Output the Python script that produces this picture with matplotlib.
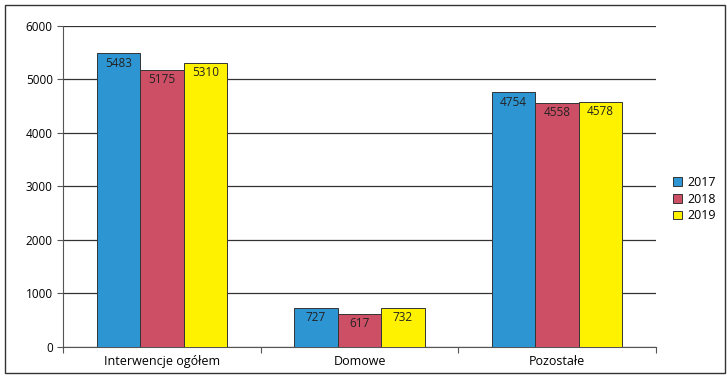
import matplotlib.pyplot as plt
import numpy as np

categories = ['Interwencje ogółem', 'Domowe', 'Pozostałe']
years = ['2017', '2018', '2019']
v2017 = [5483, 727, 4754]
v2018 = [5175, 617, 4558]
v2019 = [5310, 732, 4578]

COLORS = ['#2E95D3', '#CC4F65', '#FFF200']

plt.rcParams['font.family'] = ['Open Sans', 'DejaVu Sans']

fig = plt.figure(figsize=(7.27, 3.78), dpi=100)
fig.patch.set_facecolor('white')
ax = fig.add_axes([0.087, 0.082, 0.815, 0.85])

x = np.arange(len(categories))
w = 0.22
series = [v2017, v2018, v2019]
for i, (vals, col, yr) in enumerate(zip(series, COLORS, years)):
    bars = ax.bar(x + (i - 1) * w, vals, width=w, color=col, edgecolor='#333333',
                  linewidth=0.7, label=yr, zorder=3)
    for b, v in zip(bars, vals):
        ax.text(b.get_x() + b.get_width() / 2, v - 60, str(v), ha='center', va='top',
                fontsize=8.5, color='#222222', zorder=4)

ax.set_xlim(-0.5, 2.5)
ax.set_ylim(0, 6000)
ax.set_yticks(range(0, 6001, 1000))
ax.yaxis.grid(True, color='#333333', linewidth=0.9, zorder=0)
ax.set_xticks([-0.5, 0.5, 1.5, 2.5], minor=False)
ax.set_xticklabels([])
ax.set_xticks(x, minor=True)
ax.set_xticklabels(categories, minor=True, fontsize=9)
ax.tick_params(axis='x', which='minor', length=0, pad=6)
ax.tick_params(axis='x', which='major', length=4, direction='out', color='#555555')
ax.tick_params(axis='y', labelsize=8.5, length=4, color='#555555')
for s in ['top', 'right']:
    ax.spines[s].set_visible(False)
ax.spines['left'].set_color('#555555')
ax.spines['bottom'].set_color('#555555')

ax.legend(loc='center left', bbox_to_anchor=(1.01, 0.46), frameon=False,
          fontsize=9, handlelength=0.7, handleheight=0.7, handletextpad=0.5,
          labelspacing=0.3)

border = plt.Rectangle((0.007, 0.012), 0.99, 0.975, transform=fig.transFigure,
                       fill=False, edgecolor='#333333', linewidth=1.0)
fig.patches.append(border)

fig.savefig('out.png', dpi=100, facecolor='white')
